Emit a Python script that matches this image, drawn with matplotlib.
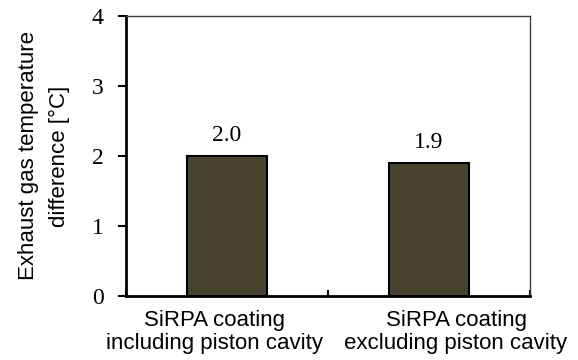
import matplotlib
matplotlib.use("Agg")
import matplotlib.pyplot as plt
import matplotlib.transforms as mtransforms

categories = ["SiRPA coating\nincluding piston cavity", "SiRPA coating\nexcluding piston cavity"]
values = [2.0, 1.9]
value_labels = ["2.0", "1.9"]
yticks = [0, 1, 2, 3, 4]

fig = plt.figure(figsize=(5.78, 3.6), dpi=100)
ax = fig.add_axes([126/578, 64/360, 404/578, 280/360])

x = list(range(len(categories)))
ax.bar(x, values, width=0.4, color="#48432E", edgecolor="black", linewidth=1.5, zorder=3)

for xi, v, lab in zip(x, values, value_labels):
    ax.annotate(lab, (xi, v), xytext=(0, 7), textcoords="offset points",
                ha="center", va="bottom", family="Liberation Serif", fontsize=17)

ax.set_xlim(-0.5, 1.5)
ax.set_ylim(0, 4)
ax.set_yticks(yticks)
ax.set_yticklabels([str(t) for t in yticks], family="Liberation Serif", fontsize=17)
ax.tick_params(axis="y", direction="out", length=6, width=1.5, pad=10)

ax.set_xticks(x)
ax.set_xticklabels(categories, family="Liberation Sans", fontsize=16, linespacing=1.15)
ax.tick_params(axis="x", which="major", length=0, pad=10)
ax.set_xticks([-0.5, 0.5, 1.5], minor=True)
ax.tick_params(axis="x", which="minor", direction="in", length=4, width=1.5)

shifts = [-12, 27]
for lab, s in zip(ax.get_xticklabels(), shifts):
    lab.set_transform(lab.get_transform() + mtransforms.ScaledTranslation(s/100, 0, fig.dpi_scale_trans))

for side in ["left", "bottom"]:
    ax.spines[side].set_linewidth(2)
    ax.spines[side].set_color("black")
for side in ["top", "right"]:
    ax.spines[side].set_linewidth(1)
    ax.spines[side].set_color("#404040")

ax.set_ylabel("Exhaust gas temperature\ndifference [°C]", family="Liberation Sans",
              fontsize=16, linespacing=1.6, labelpad=16)

fig.savefig("out.png", dpi=100)
